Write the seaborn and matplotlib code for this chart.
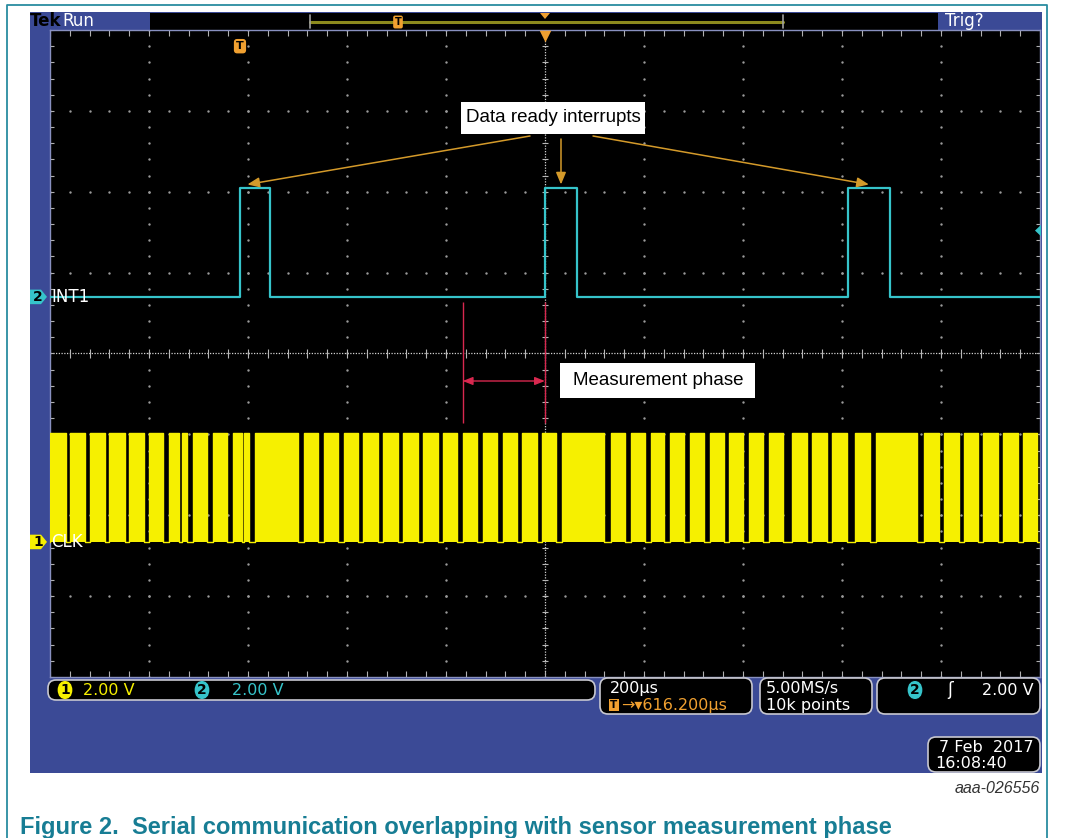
import numpy as np
import pandas as pd
import matplotlib
matplotlib.use('Agg')
import matplotlib.pyplot as plt
import seaborn as sns
from matplotlib.patches import Rectangle, FancyBboxPatch, Polygon
from matplotlib.transforms import IdentityTransform, blended_transform_factory

# ========================================
# Data: times in µs relative to trigger, levels in volts
# ========================================
INT1_RISE_US = [0, 616, 1228]
INT1_FALL_US = [61, 681, 1313]
INT1_HIGH_V = 2.7

CLK_BURST_START_US = [-384, -344, -303, -265, -224, -184, -144, -117, -95, -55,
                      -14, 8, 30, 129, 170, 210, 248, 289, 329, 370,
                      410, 450, 491, 531, 570, 610, 650, 749, 790, 830,
                      869, 909, 949, 988, 1028, 1069, 1115, 1155, 1196, 1242,
                      1285, 1382, 1422, 1462, 1501, 1541, 1582]
CLK_BURST_END_US = [-352, -313, -273, -232, -194, -156, -123, -107, -67, -26,
                    4, 18, 117, 157, 198, 238, 279, 319, 359, 400,
                    438, 479, 519, 559, 600, 638, 735, 778, 818, 856,
                    897, 937, 978, 1016, 1056, 1097, 1145, 1186, 1226, 1273,
                    1368, 1412, 1453, 1491, 1531, 1572, 1610]
CLK_HIGH_V = 2.7

MEAS_PHASE_US = [450, 616]

# scope settings
TIME_PER_DIV_US = 200
TRIG_DELAY_US = 616.2
VOLTS_PER_DIV = 2.0
INT1_POS_DIV = 0.70
CLK_POS_DIV = -2.33

# ========================================
# Colours / layout
# ========================================
W, H = 1066, 838
PANEL = '#3b4a96'
CYAN = '#36c4ca'
YELLOW = '#f6f000'
ORANGE = '#d49a2a'
TRIG_ORANGE = '#f0a030'
RED = '#d8284f'
TEAL = '#177d94'
GRID = '#9a9a9a'
SCOPE_FONT = 'DejaVu Sans'
DOC_FONT = 'Liberation Sans'

sns.set_theme(style='dark')
plt.rcParams['font.family'] = ['DejaVu Sans']

fig = plt.figure(figsize=(W / 100, H / 100), dpi=100)
fig.patch.set_facecolor('white')
PIX = IdentityTransform()


def fy(py):
    return H - py


def add_rect(x0, y0, x1, y1, **kw):
    r = Rectangle((x0, fy(y1)), x1 - x0, y1 - y0, transform=PIX, **kw)
    fig.add_artist(r)
    return r


def add_rbox(x0, y0, x1, y1, r=7, fc='black', ec='#c8c8d0', lw=1.2):
    p = FancyBboxPatch((x0, fy(y1)), x1 - x0, y1 - y0,
                       boxstyle=f'round,pad=0,rounding_size={r}',
                       transform=PIX, fc=fc, ec=ec, lw=lw)
    fig.add_artist(p)
    return p


def ptext(x, y, s, **kw):
    kw.setdefault('family', SCOPE_FONT)
    return fig.text(x / W, 1 - y / H, s, **kw)


# document frame
fig.add_artist(plt.Line2D([7, 7, 1047, 1047], [0, fy(5), fy(5), 0],
                          transform=PIX, color='#2a8ca0', lw=1.3))

# scope panel
add_rect(30, 12, 1042, 773, fc=PANEL, ec='none', zorder=-5)
add_rect(150, 13, 938, 30, fc='black', ec='none', zorder=-4)

# ========================================
# Graticule axes
# ========================================
x_min = TRIG_DELAY_US - 5 * TIME_PER_DIV_US
x_max = TRIG_DELAY_US + 5 * TIME_PER_DIV_US
ax = fig.add_axes([50 / W, 1 - 677 / H, 990 / W, 647 / H])
ax.set_facecolor('black')
ax.set_xlim(x_min, x_max)
ax.set_ylim(-4, 4)
ax.set_xticks([])
ax.set_yticks([])
for sp in ax.spines.values():
    sp.set_color('#8890c0')
    sp.set_linewidth(1.0)
    sp.set_visible(True)
ax.grid(False)

major_x = x_min + TIME_PER_DIV_US * np.arange(11)
minor_x = np.arange(x_min, x_max + 1, TIME_PER_DIV_US / 5)
major_y = np.arange(-4, 5)
minor_y = np.arange(-4, 4.01, 0.2)

# dotted division lines
for xm in major_x[1:-1]:
    if abs(xm - TRIG_DELAY_US) < 1:
        continue
    ax.scatter(np.full(minor_y.size, xm), minor_y, s=3, color=GRID, lw=0, zorder=1)
for ym in major_y[1:-1]:
    if ym == 0:
        continue
    ax.scatter(minor_x, np.full(minor_x.size, ym), s=3, color=GRID, lw=0, zorder=1)

# centre cross with ticks
ax.axvline(TRIG_DELAY_US, color='#d0d0d0', lw=0.9, ls=(0, (1, 1.2)), zorder=1)
ax.axhline(0, color='#d0d0d0', lw=0.9, ls=(0, (1, 1.2)), zorder=1)
ax.hlines(minor_y, TRIG_DELAY_US - 7, TRIG_DELAY_US + 7, color='#b8b8b8', lw=0.8, zorder=1)
ax.vlines(minor_x, -0.06, 0.06, color='#b8b8b8', lw=0.8, zorder=1)
# edge ticks
ax.vlines(minor_x, 3.93, 4, color='#b0b0b0', lw=0.8, zorder=1)
ax.vlines(minor_x, -4, -3.93, color='#b0b0b0', lw=0.8, zorder=1)
ax.hlines(minor_y, x_min, x_min + 8, color='#b0b0b0', lw=0.8, zorder=1)
ax.hlines(minor_y, x_max - 8, x_max, color='#b0b0b0', lw=0.8, zorder=1)


def step_wave(starts, ends, high):
    t = [min(x_min, starts[0])]
    v = [0.0]
    for s, e in zip(starts, ends):
        t += [s, e]
        v += [high, 0.0]
    t.append(x_max)
    v.append(0.0)
    return np.array(t, dtype=float), np.array(v)


# CLK (channel 1)
t_clk, v_clk = step_wave(CLK_BURST_START_US, CLK_BURST_END_US, CLK_HIGH_V)
clk = pd.DataFrame({'t': t_clk, 'y': CLK_POS_DIV + v_clk / VOLTS_PER_DIV})
ax.fill_between(clk['t'], CLK_POS_DIV, clk['y'], step='post', color=YELLOW, lw=0, zorder=3)
sns.lineplot(data=clk, x='t', y='y', drawstyle='steps-post', estimator=None, sort=False,
             color=YELLOW, lw=1.0, ax=ax, zorder=3)

# INT1 (channel 2)
t_int, v_int = step_wave(INT1_RISE_US, INT1_FALL_US, INT1_HIGH_V)
int1 = pd.DataFrame({'t': t_int, 'y': INT1_POS_DIV + v_int / VOLTS_PER_DIV})
sns.lineplot(data=int1, x='t', y='y', drawstyle='steps-post', estimator=None, sort=False,
             color=CYAN, lw=1.6, ax=ax, zorder=4)
ax.set_xlabel('')
ax.set_ylabel('')
ax.set_xlim(x_min, x_max)
ax.set_ylim(-4, 4)

# trigger marker "T" inside graticule
ax.text(0, 3.8, 'T', color='black', fontsize=8, fontweight='bold', ha='center', va='center',
        bbox=dict(boxstyle='round,pad=0.2,rounding_size=0.3', fc=TRIG_ORANGE, ec='none'), zorder=5)
# expansion point triangle at top centre
ax.scatter([TRIG_DELAY_US], [3.93], marker='v', s=70, color=TRIG_ORANGE, lw=0, zorder=5, clip_on=False)

# ========================================
# Annotations
# ========================================
top_y = INT1_POS_DIV + INT1_HIGH_V / VOLTS_PER_DIV + 0.04
tails = [(530, 136), (561, 139), (593, 136)]
for r_, f_, (tx, ty) in zip(INT1_RISE_US, INT1_FALL_US, tails):
    mid = (r_ + f_) / 2 if r_ > 0 else r_ + 15
    ax.annotate('', xy=(mid, top_y), xycoords='data', xytext=(tx, fy(ty)),
                textcoords='figure pixels',
                arrowprops=dict(arrowstyle='-|>,head_length=0.6,head_width=0.25',
                                color=ORANGE, lw=1.1, shrinkA=0, shrinkB=0), zorder=6)
add_rect(461, 102, 645, 134, fc='white', ec='none', zorder=7)
ptext(553, 118, 'Data ready interrupts', family=DOC_FONT, fontsize=13.5, color='black',
      ha='center', va='center', zorder=8)

# measurement phase
for tm in MEAS_PHASE_US:
    ax.vlines(tm, -0.86, 0.64, color=RED, lw=1.0, zorder=6)
ax.annotate('', xy=(MEAS_PHASE_US[0], -0.34), xytext=(MEAS_PHASE_US[1], -0.34),
            arrowprops=dict(arrowstyle='<|-|>,head_length=0.5,head_width=0.2',
                            color=RED, lw=1.0, shrinkA=0, shrinkB=0), zorder=6)
add_rect(560, 363, 755, 398, fc='white', ec='none', zorder=7)
ptext(658, 380, 'Measurement phase', family=DOC_FONT, fontsize=13.5, color='black',
      ha='center', va='center', zorder=8)

# ========================================
# Channel ground markers on the left
# ========================================
blend = blended_transform_factory(PIX, ax.transData)
for pos, label, num, col in [(INT1_POS_DIV, 'INT1', '2', CYAN), (CLK_POS_DIV, 'CLK', '1', YELLOW)]:
    poly = Polygon([(30, pos + 0.09), (41, pos + 0.09), (47, pos), (41, pos - 0.09), (30, pos - 0.09)],
                   closed=True, transform=blend, fc=col, ec='none', zorder=6)
    fig.add_artist(poly)
    fig.text(38, pos, num, transform=blend, color='black', fontsize=10, fontweight='bold',
             ha='center', va='center', zorder=7)
    fig.text(51, pos, label, transform=blend, color='white', fontsize=12,
             ha='left', va='center', zorder=7)

# trigger level marker on the right
fig.add_artist(Polygon([(1041, 1.52 + 0.07), (1035, 1.52), (1041, 1.52 - 0.07)],
                       closed=True, transform=blend, fc=CYAN, ec='none', zorder=6))

# ========================================
# Top bar
# ========================================
ptext(30, 21, 'Tek', color='black', fontsize=12, fontweight='bold', va='center')
ptext(62, 21, 'Run', color='white', fontsize=12, va='center')
ptext(945, 21, 'Trig?', color='white', fontsize=12, va='center')
fig.add_artist(plt.Line2D([310, 783], [fy(22), fy(22)], transform=PIX, color='#8c8a1e', lw=2.2))
for bx in (310, 783):
    fig.add_artist(plt.Line2D([bx, bx], [fy(15), fy(28)], transform=PIX, color='#a0a0a0', lw=1.2))
ptext(398, 22, 'T', color='black', fontsize=7, fontweight='bold', ha='center', va='center',
      bbox=dict(boxstyle='round,pad=0.15,rounding_size=0.2', fc=TRIG_ORANGE, ec='none'))
fig.add_artist(Polygon([(540, fy(13)), (550, fy(13)), (545, fy(19))], closed=True,
                       transform=PIX, fc=TRIG_ORANGE, ec='none'))

# ========================================
# Status bar
# ========================================
add_rbox(48, 680, 595, 700, r=8)
ptext(65, 690, '1', color='black', fontsize=10, fontweight='bold', ha='center', va='center',
      bbox=dict(boxstyle='round,pad=0.18,rounding_size=0.7', fc=YELLOW, ec='none'))
ptext(83, 690, '2.00 V', color=YELLOW, fontsize=11.5, va='center')
ptext(202, 690, '2', color='black', fontsize=10, fontweight='bold', ha='center', va='center',
      bbox=dict(boxstyle='round,pad=0.18,rounding_size=0.7', fc=CYAN, ec='none'))
ptext(232, 690, '2.00 V', color=CYAN, fontsize=11.5, va='center')

add_rbox(600, 678, 752, 714, r=8)
ptext(610, 688, '200µs', color='white', fontsize=11.5, va='center')
ptext(614, 705, 'T', color='black', fontsize=7.5, fontweight='bold', ha='center', va='center',
      bbox=dict(boxstyle='square,pad=0.12', fc=TRIG_ORANGE, ec='none'))
ptext(621, 705, '→▾616.200µs', color=TRIG_ORANGE, fontsize=11.5, va='center')

add_rbox(760, 678, 872, 714, r=8)
ptext(766, 688, '5.00MS/s', color='white', fontsize=11.5, va='center')
ptext(766, 705, '10k points', color='white', fontsize=11.5, va='center')

add_rbox(877, 678, 1040, 714, r=8)
ptext(915, 690, '2', color='black', fontsize=10, fontweight='bold', ha='center', va='center',
      bbox=dict(boxstyle='round,pad=0.18,rounding_size=0.7', fc=CYAN, ec='none'))
ptext(950, 690, 'ʃ', color='white', fontsize=12, ha='center', va='center')
ptext(1034, 690, '2.00 V', color='white', fontsize=11.5, ha='right', va='center')

add_rbox(928, 737, 1040, 772, r=8)
ptext(1034, 747, '7 Feb  2017', color='white', fontsize=11.5, ha='right', va='center')
ptext(935, 763, '16:08:40', color='white', fontsize=11.5, va='center')

# ========================================
# Document labels
# ========================================
ptext(1040, 788, 'aaa-026556', family=DOC_FONT, fontsize=11.5, style='italic',
      color='#333333', ha='right', va='center')
ptext(20, 827, 'Figure 2.  Serial communication overlapping with sensor measurement phase',
      family=DOC_FONT, fontsize=17, fontweight='bold', color=TEAL, ha='left', va='center')

fig.savefig('out.png', dpi=100, facecolor='white')
